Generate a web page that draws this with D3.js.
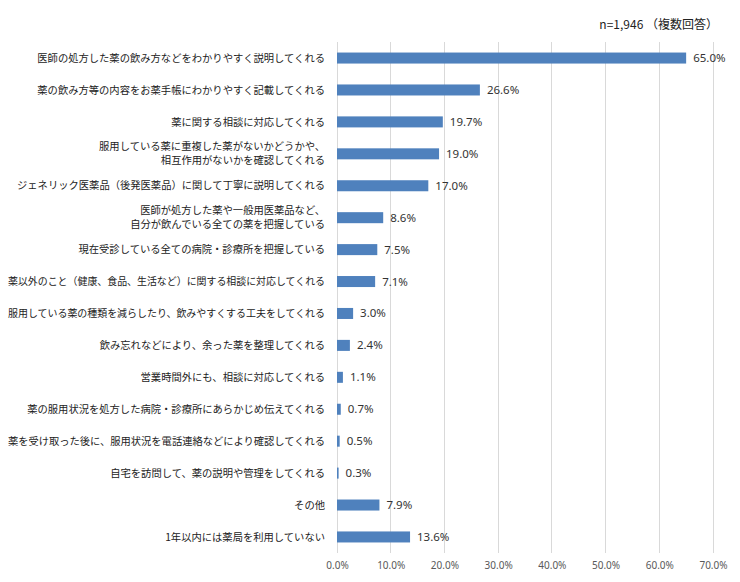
<!DOCTYPE html>
<html><head><meta charset="utf-8">
<script src="https://cdn.jsdelivr.net/npm/d3@7/dist/d3.min.js"></script>
<style>
body{margin:0;background:#fff;}
svg{display:block;font-family:"Noto Sans CJK JP","Noto Sans",sans-serif;}
</style></head>
<body><svg id="c" width="740" height="582"></svg>
<script>
const categories = [
  ["医師の処方した薬の飲み方などをわかりやすく説明してくれる"],
  ["薬の飲み方等の内容をお薬手帳にわかりやすく記載してくれる"],
  ["薬に関する相談に対応してくれる"],
  ["服用している薬に重複した薬がないかどうかや、","相互作用がないかを確認してくれる"],
  ["ジェネリック医薬品（後発医薬品）に関して丁寧に説明してくれる"],
  ["医師が処方した薬や一般用医薬品など、","自分が飲んでいる全ての薬を把握している"],
  ["現在受診している全ての病院・診療所を把握している"],
  ["薬以外のこと（健康、食品、生活など）に関する相談に対応してくれる"],
  ["服用している薬の種類を減らしたり、飲みやすくする工夫をしてくれる"],
  ["飲み忘れなどにより、余った薬を整理してくれる"],
  ["営業時間外にも、相談に対応してくれる"],
  ["薬の服用状況を処方した病院・診療所にあらかじめ伝えてくれる"],
  ["薬を受け取った後に、服用状況を電話連絡などにより確認してくれる"],
  ["自宅を訪問して、薬の説明や管理をしてくれる"],
  ["その他"],
  ["1年以内には薬局を利用していない"]
];
const values = [65.0, 26.6, 19.7, 19.0, 17.0, 8.6, 7.5, 7.1, 3.0, 2.4, 1.1, 0.7, 0.5, 0.3, 7.9, 13.6];
const xTicks = [0, 10, 20, 30, 40, 50, 60, 70];
const note = "n=1,946 （複数回答）";

const svg = d3.select("#c");
const mLeft = 337, mRight = 713, mTop = 42, mBottom = 553;
const x = d3.scaleLinear().domain([0, 70]).range([mLeft, mRight]);
const y = d3.scaleBand().domain(d3.range(categories.length)).range([mTop, mBottom]).paddingInner(0.655).paddingOuter(0.33);

// gridlines
svg.append("g").selectAll("line").data(xTicks).join("line")
  .attr("x1", d => x(d)).attr("x2", d => x(d))
  .attr("y1", mTop).attr("y2", mBottom)
  .attr("stroke", "#d9d9d9").attr("stroke-width", 1)
  .attr("shape-rendering", "crispEdges");

// x axis labels
const xa = svg.append("g").attr("transform", `translate(0,${mBottom})`)
  .call(d3.axisBottom(x).tickValues(xTicks).tickSize(0).tickPadding(9).tickFormat(d => d.toFixed(1) + "%"));
xa.select(".domain").remove();
xa.selectAll("text").attr("fill", "#595959").attr("font-size", "10px").attr("font-family", "\"Noto Sans\",sans-serif");

// bars
svg.append("g").selectAll("rect").data(values).join("rect")
  .attr("x", x(0)).attr("y", (d, i) => y(i))
  .attr("width", d => x(d) - x(0)).attr("height", y.bandwidth())
  .attr("fill", "#4f81bd");

// value labels
svg.append("g").selectAll("text").data(values).join("text")
  .attr("x", d => x(d) + 7).attr("y", (d, i) => y(i) + y.bandwidth() / 2)
  .attr("dy", "0.35em").attr("font-size", "11.5px").attr("fill", "#333")
  .attr("font-family", "\"Noto Sans\",sans-serif")
  .text(d => d.toFixed(1) + "%");

// category labels
const labelX = 325, maxW = 317;
const cl = svg.append("g").selectAll("text").data(categories).join("text")
  .attr("text-anchor", "end").attr("font-size", "10.3px").attr("fill", "#222")
  .attr("x", labelX)
  .attr("y", (d, i) => y(i) + y.bandwidth() / 2);
cl.each(function(d) {
  const t = d3.select(this);
  const n = d.length;
  d.forEach((line, k) => {
    const ts = t.append("tspan").attr("x", labelX)
      .attr("dy", k === 0 ? (0.35 - (n - 1) * 0.68) + "em" : "1.36em")
      .text(line);
    const w = ts.node().getComputedTextLength();
    if (w > maxW) ts.attr("textLength", maxW).attr("lengthAdjust", "spacingAndGlyphs");
  });
});

// note
svg.append("text").attr("x", 718).attr("y", 29).attr("text-anchor", "end")
  .attr("font-size", "12px").attr("fill", "#222").text(note);
</script></body></html>
